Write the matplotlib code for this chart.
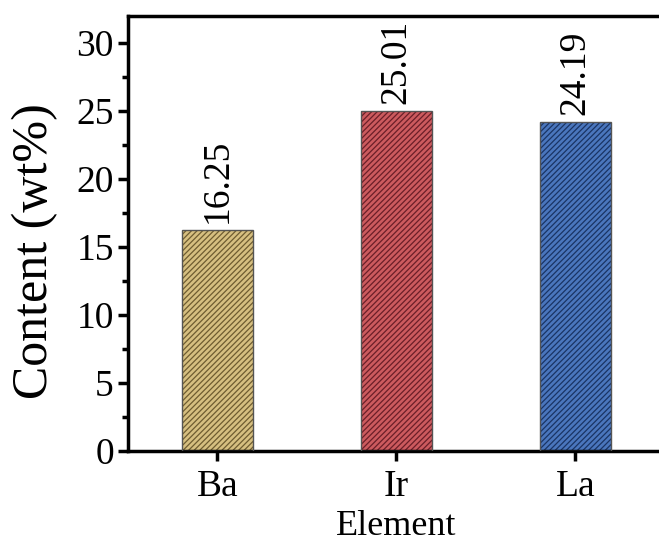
import matplotlib.pyplot as plt
from matplotlib.ticker import MultipleLocator

elements = ['Ba', 'Ir', 'La']
content = [16.25, 25.01, 24.19]
face_colors = ['#d6bf80', '#cc5a5e', '#4a76bd']
hatch_colors = ['#6e5c30', '#6a1e28', '#1a3464']

plt.rcParams['font.family'] = ['Liberation Serif', 'DejaVu Serif']
plt.rcParams['hatch.linewidth'] = 0.9

fig = plt.figure(figsize=(6.59, 5.45), dpi=100)
ax = fig.add_axes([0.194, 0.1725, 0.815, 0.7985])

x = list(range(len(elements)))
# hatched fill first, then a thin grey outline on top
ax.bar(x, content, width=0.4, color=face_colors, edgecolor=hatch_colors,
       hatch='//////', linewidth=0, zorder=2)
ax.bar(x, content, width=0.4, fill=False, edgecolor='#555555',
       linewidth=1.0, zorder=3)

for xi, v in zip(x, content):
    ax.text(xi, v + 0.5, f'{v:.2f}', rotation=90, ha='center', va='bottom',
            fontsize=27)

ax.set_xlim(-0.5, 2.5)
ax.set_ylim(0, 32)
ax.set_xticks(x)
ax.set_xticklabels(elements)
ax.yaxis.set_major_locator(MultipleLocator(5))
ax.yaxis.set_minor_locator(MultipleLocator(2.5))

for s in ax.spines.values():
    s.set_linewidth(2.5)
ax.tick_params(axis='both', which='major', direction='out', length=7,
               width=2.5, labelsize=27, pad=3)
ax.tick_params(axis='x', which='major', pad=6)
ax.tick_params(axis='y', which='minor', direction='out', length=4, width=2.5)
ax.tick_params(top=False, right=False)

ax.set_xlabel('Element', fontsize=26, labelpad=5)
ax.set_ylabel('Content (wt%)', fontsize=36)
ax.yaxis.set_label_coords(-0.13, 0.46)

fig.savefig('out.png', dpi=100)
